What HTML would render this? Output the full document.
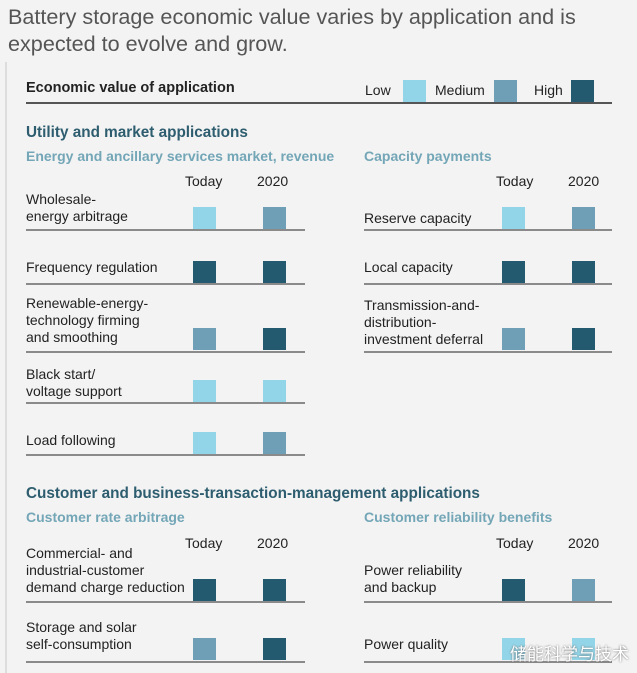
<!DOCTYPE html>
<html><head><style>
body{margin:0;width:637px;height:673px;background:#f3f3f4;font-family:"Liberation Sans",sans-serif;position:relative;overflow:hidden;color:#222}
div{position:absolute;white-space:nowrap}
.t{font-size:14px;line-height:17px}
.b{width:23px;height:22px}
.L{background:#93d5e8}.M{background:#6f9fb6}.H{background:#245a70}
.ln{height:2px;background:#8a8a8a}
.h{font-weight:bold;color:#2d5d6e;font-size:15.3px}
.s{font-weight:bold;color:#73a6b6;font-size:14px}
</style></head><body>
<div style="left:8px;top:3px;font-size:21.6px;line-height:27px;color:#555">Battery storage economic value varies by application and is<br>expected to evolve and grow.</div>
<div style="left:5px;top:62px;width:2px;height:611px;background:#ddd"></div>
<div style="left:26px;top:80px;font-weight:bold;font-size:14.5px">Economic value of application</div>
<div class="ln" style="left:26px;top:102px;width:586px;background:#555"></div>
<div class="t" style="left:365px;top:82px">Low</div><div class="b L" style="left:403px;top:80px"></div>
<div class="t" style="left:435px;top:82px">Medium</div><div class="b M" style="left:494px;top:80px"></div>
<div class="t" style="left:534px;top:82px">High</div><div class="b H" style="left:571px;top:80px"></div>

<div class="h" style="left:26px;top:124px">Utility and market applications</div>
<div class="s" style="left:26px;top:148px">Energy and ancillary services market, revenue</div>
<div class="s" style="left:364px;top:148px">Capacity payments</div>
<div class="t" style="left:185px;top:173px">Today</div><div class="t" style="left:257px;top:173px">2020</div>
<div class="t" style="left:496px;top:173px">Today</div><div class="t" style="left:568px;top:173px">2020</div>

<div class="t" style="left:26px;top:191px">Wholesale-<br>energy arbitrage</div>
<div class="b L" style="left:193px;top:207px"></div><div class="b M" style="left:263px;top:207px"></div>
<div class="ln" style="left:26px;top:229px;width:279px"></div>
<div class="t" style="left:26px;top:259px">Frequency regulation</div>
<div class="b H" style="left:193px;top:261px"></div><div class="b H" style="left:263px;top:261px"></div>
<div class="ln" style="left:26px;top:283px;width:279px"></div>
<div class="t" style="left:26px;top:295px">Renewable-energy-<br>technology firming<br>and smoothing</div>
<div class="b M" style="left:193px;top:328px"></div><div class="b H" style="left:263px;top:328px"></div>
<div class="ln" style="left:26px;top:351px;width:279px"></div>
<div class="t" style="left:26px;top:366px">Black start/<br>voltage support</div>
<div class="b L" style="left:193px;top:380px"></div><div class="b L" style="left:263px;top:380px"></div>
<div class="ln" style="left:26px;top:402px;width:279px"></div>
<div class="t" style="left:26px;top:432px">Load following</div>
<div class="b L" style="left:193px;top:432px"></div><div class="b M" style="left:263px;top:432px"></div>
<div class="ln" style="left:26px;top:454px;width:279px"></div>

<div class="t" style="left:364px;top:210px">Reserve capacity</div>
<div class="b L" style="left:502px;top:207px"></div><div class="b M" style="left:572px;top:207px"></div>
<div class="ln" style="left:364px;top:229px;width:248px"></div>
<div class="t" style="left:364px;top:259px">Local capacity</div>
<div class="b H" style="left:502px;top:261px"></div><div class="b H" style="left:572px;top:261px"></div>
<div class="ln" style="left:364px;top:283px;width:248px"></div>
<div class="t" style="left:364px;top:297px">Transmission-and-<br>distribution-<br>investment deferral</div>
<div class="b M" style="left:502px;top:328px"></div><div class="b H" style="left:572px;top:328px"></div>
<div class="ln" style="left:364px;top:351px;width:248px"></div>

<div class="h" style="left:26px;top:485px">Customer and business-transaction-management applications</div>
<div class="s" style="left:26px;top:509px">Customer rate arbitrage</div>
<div class="s" style="left:364px;top:509px">Customer reliability benefits</div>
<div class="t" style="left:185px;top:535px">Today</div><div class="t" style="left:257px;top:535px">2020</div>
<div class="t" style="left:496px;top:535px">Today</div><div class="t" style="left:568px;top:535px">2020</div>

<div class="t" style="left:26px;top:545px">Commercial- and<br>industrial-customer<br>demand charge reduction</div>
<div class="b H" style="left:193px;top:579px"></div><div class="b H" style="left:263px;top:579px"></div>
<div class="ln" style="left:26px;top:601px;width:279px"></div>
<div class="t" style="left:26px;top:619px">Storage and solar<br>self-consumption</div>
<div class="b M" style="left:193px;top:638px"></div><div class="b H" style="left:263px;top:638px"></div>
<div class="ln" style="left:26px;top:661px;width:279px"></div>

<div class="t" style="left:364px;top:562px">Power reliability<br>and backup</div>
<div class="b H" style="left:502px;top:579px"></div><div class="b M" style="left:572px;top:579px"></div>
<div class="ln" style="left:364px;top:601px;width:248px"></div>
<div class="t" style="left:364px;top:636px">Power quality</div>
<div class="b L" style="left:502px;top:638px"></div><div class="b L" style="left:572px;top:638px"></div>
<div class="ln" style="left:364px;top:661px;width:248px"></div>
<div style="left:510px;top:640px;font-size:17px;color:#fff;font-family:'Liberation Sans','Noto Sans CJK SC',sans-serif;text-shadow:0 0 2px #666">储能科学与技术</div>
</body></html>
